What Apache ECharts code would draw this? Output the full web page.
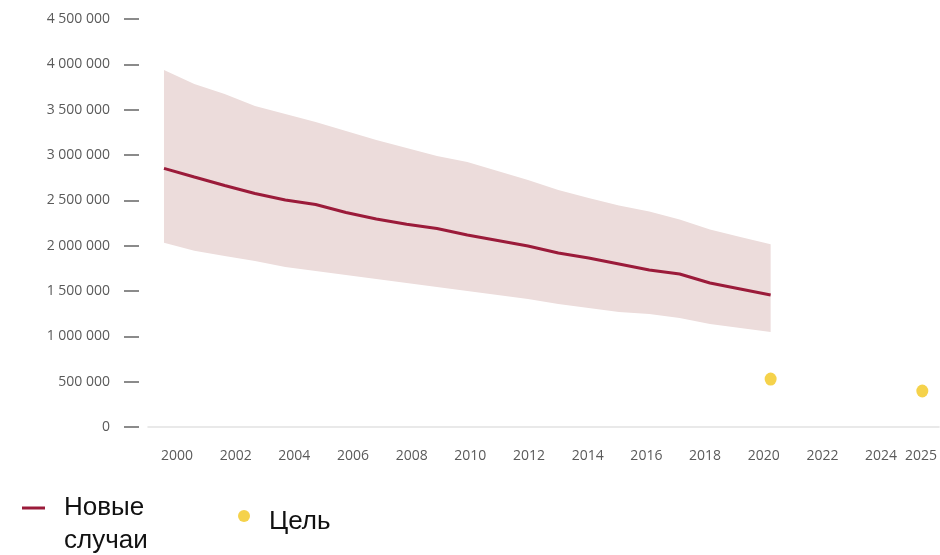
<!DOCTYPE html>
<html>
<head>
<meta charset="utf-8">
<script src="https://cdn.jsdelivr.net/npm/echarts@6/dist/echarts.min.js"></script>
<style>
  html, body { margin: 0; padding: 0; background: #fff; }
  #chart { width: 940px; height: 555px; }
</style>
</head>
<body>
<div id="chart"></div>
<script>
// ---- Data ----
const years = [2000, 2001, 2002, 2003, 2004, 2005, 2006, 2007, 2008, 2009, 2010,
               2011, 2012, 2013, 2014, 2015, 2016, 2017, 2018, 2019, 2020];
const newCases = [2853000, 2757000, 2664000, 2575000, 2504000, 2454000, 2366000, 2294000, 2236000, 2189000, 2118000,
                  2057000, 1996000, 1919000, 1864000, 1798000, 1732000, 1687000, 1588000, 1522000, 1456000];
const upperBound = [3937000, 3783000, 3673000, 3540000, 3452000, 3364000, 3265000, 3165000, 3077000, 2989000, 2923000,
                    2823000, 2724000, 2614000, 2526000, 2443000, 2377000, 2289000, 2178000, 2096000, 2015000];
const lowerBound = [2033000, 1944000, 1886000, 1831000, 1765000, 1721000, 1676000, 1632000, 1588000, 1544000, 1500000,
                    1456000, 1412000, 1357000, 1312000, 1268000, 1246000, 1202000, 1136000, 1092000, 1048000];
const targetYears = [2020, 2025];
const targetValues = [529000, 397000];
const xTickYears = [2000, 2002, 2004, 2006, 2008, 2010, 2012, 2014, 2016, 2018, 2020, 2022, 2024, 2025];
const seriesNames = ['Новые случаи', 'Цель'];

// ---- Build ----
const pair = (xs, ys) => xs.map((x, i) => [x, ys[i]]);
const fmtNum = v => String(v).replace(/\B(?=(\d{3})+(?!\d))/g, ' ');
// label axis places the final "2025" tick a little to the right (as in the original layout)
const labelTickValues = xTickYears.map(y => (y === 2025 ? 2025.36 : y));
const bandData = years.map((y, i) => [y, lowerBound[i], upperBound[i]]);

const chart = echarts.init(document.getElementById('chart'), null, { renderer: 'canvas' });
const axisFont = { fontFamily: 'Open Sans', fontSize: 14, color: '#5a5a5a' };

chart.setOption({
  animation: false,
  backgroundColor: '#ffffff',
  grid: { left: 148, right: 0, top: 19, bottom: 128, containLabel: false },
  xAxis: [
    {
      type: 'value', position: 'bottom', offset: 0,
      min: 1999.4732, max: 2025.5515,
      axisLine: { show: true, lineStyle: { color: '#e2e2e2', width: 1.5 } },
      axisTick: { show: false }, axisLabel: { show: false }, splitLine: { show: false }
    },
    {
      type: 'value', position: 'bottom', offset: 0,
      min: 1999.0128, max: 2025.975,
      axisLine: { show: false }, axisTick: { show: false }, splitLine: { show: false },
      axisLabel: Object.assign({
        customValues: labelTickValues,
        margin: 22,
        formatter: v => String(Math.round(v))
      }, axisFont)
    }
  ],
  yAxis: {
    type: 'value', min: 0, max: 4500000, interval: 500000,
    offset: 9,
    axisLine: { show: false },
    axisTick: { show: true, length: 15, lineStyle: { color: '#666666', width: 1.5 } },
    splitLine: { show: false },
    axisLabel: Object.assign({ margin: 29, formatter: v => fmtNum(v) }, axisFont)
  },
  legend: [
    {
      data: [seriesNames[0]],
      left: 22, top: 458.5, padding: 0,
      icon: 'rect', itemWidth: 23, itemHeight: 3,
      formatter: () => '\nНовые\nслучаи',
      textStyle: {
        fontFamily: 'Liberation Sans', fontSize: 26, color: '#111',
        lineHeight: 33, padding: [0, 0, 0, 14]
      }
    },
    {
      data: [seriesNames[1]],
      left: 238, top: 497, padding: 0,
      icon: 'circle', itemWidth: 12, itemHeight: 13,
      formatter: name => '\n' + name,
      textStyle: {
        fontFamily: 'Liberation Sans', fontSize: 26, color: '#111',
        lineHeight: 12, padding: [0, 0, 0, 14]
      }
    }
  ],
  series: [
    {
      name: 'band', type: 'custom', xAxisIndex: 0, silent: true, z: 1,
      data: bandData,
      encode: { x: 0, y: [1, 2] },
      renderItem: function (params, api) {
        if (params.dataIndex !== 0) return null;
        const top = bandData.map(d => api.coord([d[0], d[2]]));
        const bottom = bandData.map(d => api.coord([d[0], d[1]])).reverse();
        return {
          type: 'polygon',
          shape: { points: top.concat(bottom) },
          style: { fill: '#ecdcdb', stroke: null }
        };
      }
    },
    {
      name: seriesNames[0], type: 'line', xAxisIndex: 0,
      data: pair(years, newCases), symbol: 'none',
      itemStyle: { color: '#9b1b3a' },
      lineStyle: { color: '#9b1b3a', width: 3 }, z: 3
    },
    {
      name: seriesNames[1], type: 'scatter', xAxisIndex: 0,
      data: pair(targetYears, targetValues),
      symbol: 'circle', symbolSize: [12, 13],
      itemStyle: { color: '#f2c71e' }, z: 4
    }
  ]
});
</script>
</body>
</html>
